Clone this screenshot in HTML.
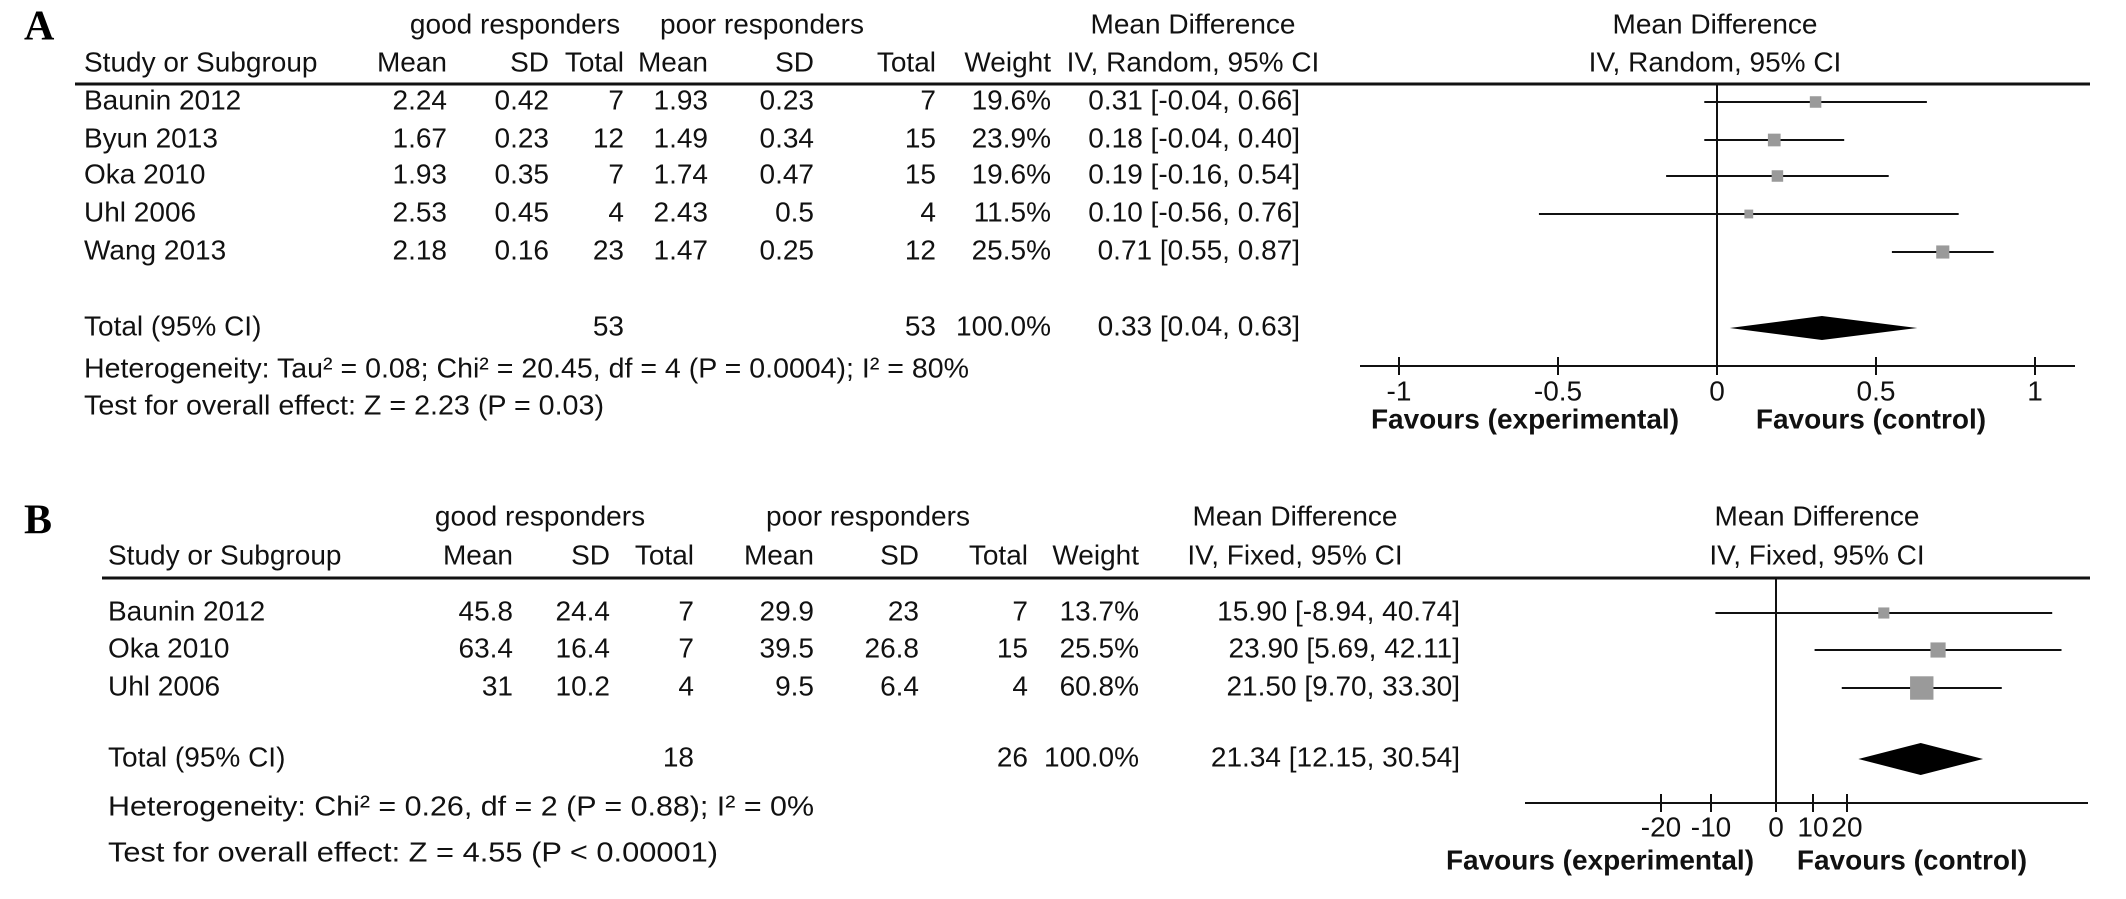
<!DOCTYPE html>
<html><head><meta charset="utf-8"><style>
html,body{margin:0;padding:0;background:#fff;}
svg{display:block;font-family:"Liberation Sans",Arial,sans-serif;}
text{fill:#111;font-size:28px;}
.lab{font-family:"Liberation Serif",serif;font-weight:bold;font-size:42px;fill:#000;}
</style></head><body>
<svg id="fig" width="2126" height="899" viewBox="0 0 2126 899" xmlns="http://www.w3.org/2000/svg"></svg>
<script>
// ---- Panel A data ----
const studiesA = ["Baunin 2012","Byun 2013","Oka 2010","Uhl 2006","Wang 2013"];
const goodMeanA = ["2.24","1.67","1.93","2.53","2.18"];
const goodSdA = ["0.42","0.23","0.35","0.45","0.16"];
const goodNA = ["7","12","7","4","23"];
const poorMeanA = ["1.93","1.49","1.74","2.43","1.47"];
const poorSdA = ["0.23","0.34","0.47","0.5","0.25"];
const poorNA = ["7","15","15","4","12"];
const weightA = [19.6,23.9,19.6,11.5,25.5];
const mdA = [0.31,0.18,0.19,0.10,0.71];
const loA = [-0.04,-0.04,-0.16,-0.56,0.55];
const hiA = [0.66,0.40,0.54,0.76,0.87];
const totalA = {md:0.33, lo:0.04, hi:0.63, n1:"53", n2:"53"};
const ticksA = [-1,-0.5,0,0.5,1];
const tickLabelsA = ["-1","-0.5","0","0.5","1"];
// ---- Panel B data ----
const studiesB = ["Baunin 2012","Oka 2010","Uhl 2006"];
const goodMeanB = ["45.8","63.4","31"];
const goodSdB = ["24.4","16.4","10.2"];
const goodNB = ["7","7","4"];
const poorMeanB = ["29.9","39.5","9.5"];
const poorSdB = ["23","26.8","6.4"];
const poorNB = ["7","15","4"];
const weightB = [13.7,25.5,60.8];
const mdB = [15.90,23.90,21.50];
const loB = [-8.94,5.69,9.70];
const hiB = [40.74,42.11,33.30];
const totalB = {md:21.34, lo:12.15, hi:30.54, n1:"18", n2:"26"};
const tickLabelsB = ["-20","-10","0","10","20"];
const ticksB = [-20,-10,0,10,20];

const svg = document.getElementById('fig');
const NS = "http://www.w3.org/2000/svg";
function mk(tag, attrs, parent){
  const e = document.createElementNS(NS, tag);
  for (const k in attrs) e.setAttribute(k, attrs[k]);
  (parent||svg).appendChild(e); return e;
}
function txt(s, x, y, anchor, name, extra){
  const e = mk('text', Object.assign({x:x, y:y, 'text-anchor':anchor||'start', 'dominant-baseline':'middle'}, extra||{}));
  e.textContent = s;
  
  
  return e;
}
function line(x1,y1,x2,y2,w,name,col){
  const e = mk('line',{x1:x1,y1:y1,x2:x2,y2:y2,stroke:col||'#111','stroke-width':w});
  
  
  return e;
}

function panel(cfg){
  const g = cfg;
  txt(g.label, 24, g.labY, 'start', 'panel-label', {'class':'lab'});
  txt("good responders", g.c.good, g.y.grp, 'middle', 'group-header-good');
  txt("poor responders", g.c.poor, g.y.grp, 'middle', 'group-header-poor');
  txt("Mean Difference", g.c.ci, g.y.grp, 'middle', 'md-header');
  txt("Mean Difference", g.c.plot, g.y.grp, 'middle', 'plot-header');
  txt("Study or Subgroup", g.c.study, g.y.hdr, 'start', 'study-column-header');
  txt("Mean", g.c.m1, g.y.hdr, 'end', 'mean-header');
  txt("SD", g.c.s1, g.y.hdr, 'end', 'sd-header');
  txt("Total", g.c.n1, g.y.hdr, 'end', 'total-header');
  txt("Mean", g.c.m2, g.y.hdr, 'end', 'mean-header');
  txt("SD", g.c.s2, g.y.hdr, 'end', 'sd-header');
  txt("Total", g.c.n2, g.y.hdr, 'end', 'total-header');
  txt("Weight", g.c.w, g.y.hdr, 'end', 'weight-header');
  txt(g.method, g.c.ci, g.y.hdr, 'middle', 'ci-method-header');
  txt(g.method, g.c.plot, g.y.hdr, 'middle', 'plot-method-header');
  line(g.lineX0, g.y.line, 2090, g.y.line, 3, 'header-rule');
  const sx = v => g.x0 + v*g.scale;
  line(sx(0), g.y.line, sx(0), g.y.axis, 2, 'zero-line');
  g.studies.forEach((s,i)=>{
    const y = g.y.rows[i];
    txt(s, g.c.study, y, 'start', 'study-name');
    txt(g.m1[i], g.c.m1, y, 'end', 'good-mean');
    txt(g.s1[i], g.c.s1, y, 'end', 'good-sd');
    txt(g.n1[i], g.c.n1, y, 'end', 'good-total');
    txt(g.m2[i], g.c.m2, y, 'end', 'poor-mean');
    txt(g.s2[i], g.c.s2, y, 'end', 'poor-sd');
    txt(g.n2[i], g.c.n2, y, 'end', 'poor-total');
    txt(g.w[i].toFixed(1)+"%", g.c.w, y, 'end', 'weight-value');
    txt(g.md[i].toFixed(2)+" ["+g.lo[i].toFixed(2)+", "+g.hi[i].toFixed(2)+"]", g.c.ciR, y, 'end', 'md-ci-value');
    line(sx(g.lo[i]), y, sx(g.hi[i]), y, 2, 'ci-line');
    const sz = g.sq(g.w[i]);
    const r = mk('rect',{x:sx(g.md[i])-sz/2, y:y-sz/2, width:sz, height:sz, fill:'#9a9a9a'});
    
    
  });
  const ty = g.y.total;
  txt("Total (95% CI)", g.c.study, ty, 'start', 'total-label');
  txt(g.tot.n1, g.c.n1, ty, 'end', 'good-total-sum');
  txt(g.tot.n2, g.c.n2, ty, 'end', 'poor-total-sum');
  txt("100.0%", g.c.w, ty, 'end', 'total-weight');
  txt(g.tot.md.toFixed(2)+" ["+g.tot.lo.toFixed(2)+", "+g.tot.hi.toFixed(2)+"]", g.c.ciR, ty, 'end', 'total-md-ci');
  const dh = g.dh;
  const d = mk('polygon',{points:`${sx(g.tot.lo)},${ty} ${sx(g.tot.md)},${ty-dh} ${sx(g.tot.hi)},${ty} ${sx(g.tot.md)},${ty+dh}`, fill:'#000'});
  
  
  txt(g.het, g.c.study, g.y.het, 'start', 'heterogeneity-stats', {textLength:g.hetW, lengthAdjust:'spacingAndGlyphs'});
  txt(g.test, g.c.study, g.y.test, 'start', 'overall-effect-test', {textLength:g.testW, lengthAdjust:'spacingAndGlyphs'});
  line(g.axX0, g.y.axis, g.axX1, g.y.axis, 2, 'x-axis');
  g.ticks.forEach((t,i)=>{
    const x = g.tickPos ? g.tickPos[i] : sx(t);
    line(x, g.y.axis-9, x, g.y.axis+9, 2, 'x-tick');
    txt(g.tickLabels[i], x, g.y.tick, 'middle', 'x-tick-label');
  });
  txt("Favours (experimental)", g.c.fe, g.y.fav, 'middle', 'favours-experimental-label', {'font-weight':'bold','font-size':'27px'});
  txt("Favours (control)", g.c.fc, g.y.fav, 'middle', 'favours-control-label', {'font-weight':'bold','font-size':'27px'});
}

panel({
  label:"A", labY:30, method:"IV, Random, 95% CI",
  c:{good:515, poor:762, ci:1193, ciR:1300, plot:1715, study:84, m1:447, s1:549, n1:624, m2:708, s2:814, n2:936, w:1051, fe:1525, fc:1871},
  y:{grp:26, hdr:64, line:84, rows:[102,140,176,214,252], total:328, het:370, test:407, axis:366, tick:393, fav:421},
  lineX0:75, x0:1717, scale:318, axX0:1360, axX1:2075,
  studies:studiesA, m1:goodMeanA, s1:goodSdA, n1:goodNA, m2:poorMeanA, s2:poorSdA, n2:poorNA,
  w:weightA, md:mdA, lo:loA, hi:hiA, tot:totalA, dh:12,
  sq:w=>Math.sqrt(w)*2.6,
  het:"Heterogeneity: Tau² = 0.08; Chi² = 20.45, df = 4 (P = 0.0004); I² = 80%", hetW:885,
  test:"Test for overall effect: Z = 2.23 (P = 0.03)", testW:520,
  ticks:ticksA, tickLabels:tickLabelsA
});
panel({
  label:"B", labY:524, method:"IV, Fixed, 95% CI",
  c:{good:540, poor:868, ci:1295, ciR:1460, plot:1817, study:108, m1:513, s1:610, n1:694, m2:814, s2:919, n2:1028, w:1139, fe:1600, fc:1912},
  y:{grp:518, hdr:557, line:578, rows:[613,650,688], total:759, het:808, test:854, axis:803, tick:829, fav:862},
  lineX0:102, x0:1776, scale:6.78, axX0:1525, axX1:2088,
  studies:studiesB, m1:goodMeanB, s1:goodSdB, n1:goodNB, m2:poorMeanB, s2:poorSdB, n2:poorNB,
  w:weightB, md:mdB, lo:loB, hi:hiB, tot:totalB, dh:16,
  sq:w=>Math.sqrt(w)*3.0,
  het:"Heterogeneity: Chi² = 0.26, df = 2 (P = 0.88); I² = 0%", hetW:706,
  test:"Test for overall effect: Z = 4.55 (P < 0.00001)", testW:610,
  ticks:ticksB, tickLabels:tickLabelsB, tickPos:[1661,1711,1776,1813,1847]
});
</script>
</body></html>
